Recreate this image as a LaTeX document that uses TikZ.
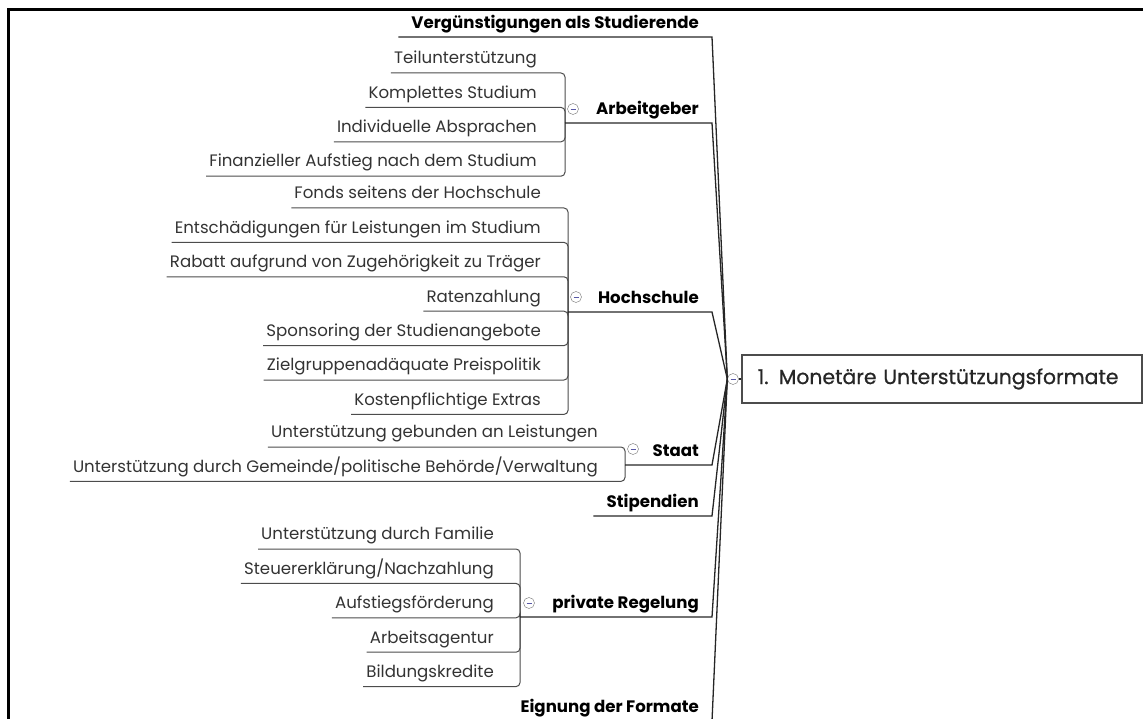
\documentclass[tikz,border=0pt]{standalone}
\usepackage{fontspec}
\setmainfont{Poppins}
\usetikzlibrary{positioning}

\newcommand{\leaffont}{\fontsize{16.6}{18}\selectfont}
\newcommand{\topicfont}{\fontsize{16.6}{18}\selectfont\bfseries}
\newcommand{\rootfont}{\fontsize{20.4}{24}\selectfont\addfontfeatures{FakeBold=0.8}}

\begin{document}
\begin{tikzpicture}[x=1pt,y=1pt,
	leaf/.style={font=\leaffont,text=black!80,inner xsep=3pt,inner ysep=0pt,
		minimum height=26pt,text height=12pt,text depth=4pt,node distance=8pt},
	topic/.style={font=\topicfont,anchor=south east,inner xsep=13pt,inner ysep=0pt,
		minimum height=24pt,text height=12pt,text depth=4pt},
	toggle/.style={circle,draw=black!55,fill=white,minimum size=11pt,inner sep=0pt,
		path picture={\draw[line width=0.8pt,blue!30!gray]
			([xshift=-2.5pt]path picture bounding box.center) -- ([xshift=2.5pt]path picture bounding box.center);}},
	root/.style={draw=black!70,line width=1.5pt,font=\rootfont,text=black!85,minimum height=48pt,
		text width=368pt,inner xsep=16pt,align=left,anchor=west},
	branch/.style={draw=black!85,line width=1.3pt},
	twig/.style={draw=black!70,line width=1pt,rounded corners=4pt}]
	\useasboundingbox (0,0) rectangle (1143,-719);
	% frame
	\draw[line width=3pt] (8,-725) -- (8,-10) -- (1150,-10);
	
	% root
	\node[root]   (MUF)  at (741,-379) {1. Monetäre Unterstützungsformate};
	\node[toggle] (MUFt) at (733,-379) {};
	\draw[branch] (MUFt) -- (MUF);
	
	% main topics
	\node[topic] (VG) at (712,-37)  {Vergünstigungen als Studierende};
	\node[topic] (AG) at (712,-123) {Arbeitgeber};
	\node[topic] (HS) at (712,-312) {Hochschule};
	\node[topic] (ST) at (712,-465) {Staat};
	\node[topic] (SP) at (712,-516) {Stipendien};
	\node[topic] (PR) at (712,-617) {private Regelung};
	\node[topic] (EF) at (712,-721) {Eignung der Formate};
	
	\node[toggle] (AGt) at (573,-109) {};
	\node[toggle] (HSt) at (576,-297) {};
	\node[toggle] (STt) at (633,-449) {};
	\node[toggle] (PRt) at (529,-603) {};
	
	\coordinate (AGb) at (565,-123);
	\coordinate (HSb) at (568,-312);
	\coordinate (STb) at (625,-465);
	\coordinate (PRb) at (520,-617);
	
	% Arbeitgeber
	\node[leaf,anchor=south east] (AG1) at (540,-73) {Teilunterstützung};
	\node[leaf,below left=8pt and 0pt of AG1.south east] (AG2) {Komplettes Studium};
	\node[leaf,below left=8pt and 0pt of AG2.south east] (AG3) {Individuelle Absprachen};
	\node[leaf,below left=8pt and 0pt of AG3.south east] (AG4) {Finanzieller Aufstieg nach dem Studium};
	
	% Hochschule
	\node[leaf,anchor=south east] (HS1) at (544,-208) {Fonds seitens der Hochschule};
	\node[leaf,below left=8pt and 0pt of HS1.south east] (HS2) {Entschädigungen für Leistungen im Studium};
	\node[leaf,below left=8pt and 0pt of HS2.south east] (HS3) {Rabatt aufgrund von Zugehörigkeit zu Träger};
	\node[leaf,below left=8pt and 0pt of HS3.south east] (HS4) {Ratenzahlung};
	\node[leaf,below left=8pt and 0pt of HS4.south east] (HS5) {Sponsoring der Studienangebote};
	\node[leaf,below left=8pt and 0pt of HS5.south east] (HS6) {Zielgruppenadäquate Preispolitik};
	\node[leaf,below left=8pt and 0pt of HS6.south east] (HS7) {Kostenpflichtige Extras};
	
	% Staat
	\node[leaf,anchor=south east] (ST1) at (601,-447) {Unterstützung gebunden an Leistungen};
	\node[leaf,below left=8pt and 0pt of ST1.south east] (ST2) {Unterstützung durch Gemeinde/politische Behörde/Verwaltung};
	
	% private Regelung
	\node[leaf,anchor=south east] (PR1) at (497,-549) {Unterstützung durch Familie};
	\node[leaf,below left=8pt and 0pt of PR1.south east] (PR2) {Steuererklärung/Nachzahlung};
	\node[leaf,below left=8pt and 0pt of PR2.south east] (PR3) {Aufstiegsförderung};
	\node[leaf,below left=8pt and 0pt of PR3.south east] (PR4) {Arbeitsagentur};
	\node[leaf,below left=8pt and 0pt of PR4.south east] (PR5) {Bildungskredite};
	
	% twigs
	\foreach \i in {1,...,4} \draw[twig] (AG\i.south west) -| (AGb);
	\foreach \i in {1,...,7} \draw[twig] (HS\i.south west) -| (HSb);
	\foreach \i in {1,2}     \draw[twig] (ST\i.south west) -| (STb);
	\foreach \i in {1,...,5} \draw[twig] (PR\i.south west) -| (PRb);
	
	% branches
	\draw[branch] (VG.south west) -- (VG.south east) -- (MUFt.west);
	\draw[branch] (AGb) -- (AG.south east) -- (MUFt.west);
	\draw[branch] (HSb) -- (HS.south east) -- (MUFt.west);
	\draw[branch] (STb) -- (ST.south east) -- (MUFt.west);
	\draw[branch] (SP.south west) -- (SP.south east) -- (MUFt.west);
	\draw[branch] (PRb) -- (PR.south east) -- (MUFt.west);
	\draw[branch] (EF.south west) -- (EF.south east) -- (MUFt.west);
\end{tikzpicture}
\end{document}
